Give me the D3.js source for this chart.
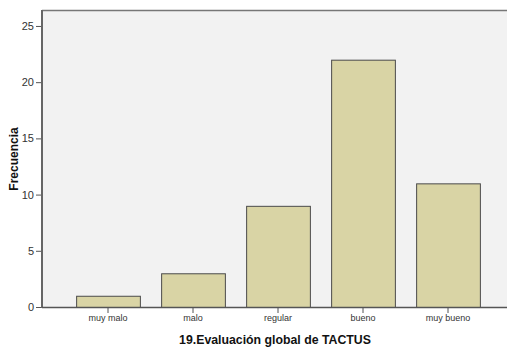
<!DOCTYPE html>
<html><head><meta charset="utf-8">
<script src="https://cdn.jsdelivr.net/npm/d3@7"></script>
<style>body{margin:0;background:#fff}svg{display:block}text{font-family:"Liberation Sans",Arial,sans-serif}</style>
</head><body><svg id="c" width="507" height="349"></svg>
<script>
const categories = ["muy malo","malo","regular","bueno","muy bueno"];
const values = [1,3,9,22,11];
const yTicks = [0,5,10,15,20,25];
const xTitle = "19.Evaluación global de TACTUS";
const yTitle = "Frecuencia";

const svg = d3.select("#c");
const L = 42, R = 507, T = 10, B = 307;
const x = d3.scaleBand().domain(categories).range([65.5, 490.5]).paddingInner(0.25).paddingOuter(0.125);
const y = d3.scaleLinear().domain([0, 26.42]).range([B, T]);

svg.append("rect").attr("x", L).attr("y", T).attr("width", R - L).attr("height", B - T).attr("fill", "#f2f2f2");
svg.append("line").attr("x1", L).attr("x2", R).attr("y1", T + 0.5).attr("y2", T + 0.5).attr("stroke", "#777").attr("stroke-width", 1.5);

svg.selectAll("rect.bar").data(values).join("rect").attr("class", "bar")
  .attr("x", (d, i) => x(categories[i]) + 0.5)
  .attr("y", d => y(d) + 0.5)
  .attr("width", x.bandwidth())
  .attr("height", d => B - y(d))
  .attr("fill", "#d9d4a5").attr("stroke", "#4a4a4a").attr("stroke-width", 1);

const ya = svg.append("g").attr("transform", `translate(${L},0)`)
  .call(d3.axisLeft(y).tickValues(yTicks).tickSize(6).tickPadding(2).tickSizeOuter(0));
ya.select(".domain").remove();
ya.selectAll(".tick line").attr("stroke", "#555");
ya.selectAll(".tick text").attr("fill", "#333").attr("font-size", 11);
svg.append("line").attr("x1", L).attr("x2", L).attr("y1", T).attr("y2", B + 1).attr("stroke", "#666").attr("stroke-width", 2);

const xa = svg.append("g").attr("transform", `translate(0,${B})`)
  .call(d3.axisBottom(x).tickSize(6).tickPadding(2).tickSizeOuter(0));
xa.select(".domain").remove();
xa.selectAll(".tick line").attr("stroke", "#555");
xa.selectAll(".tick text").attr("fill", "#333").attr("font-size", 9);
svg.append("line").attr("x1", L).attr("x2", R).attr("y1", B + 0.5).attr("y2", B + 0.5).attr("stroke", "#555").attr("stroke-width", 1.5);

svg.append("text").attr("x", 275).attr("y", 344).attr("text-anchor", "middle")
  .attr("font-size", 12.3).attr("font-weight", "bold").attr("fill", "#111").text(xTitle);
svg.append("text").attr("transform", "translate(18,159) rotate(-90)").attr("text-anchor", "middle")
  .attr("font-size", 12).attr("font-weight", "bold").attr("fill", "#111").text(yTitle);
</script></body></html>
